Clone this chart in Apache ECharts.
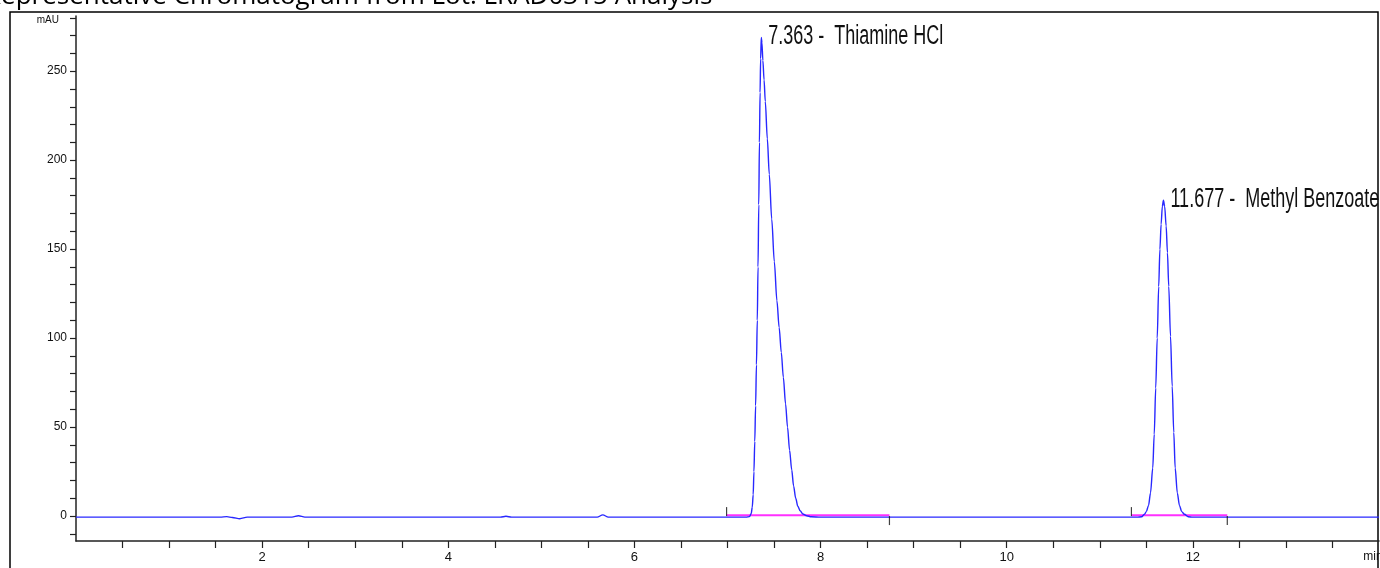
<!DOCTYPE html>
<html>
<head>
<meta charset="utf-8">
<title>Chromatogram</title>
<script src="https://cdn.jsdelivr.net/npm/echarts@6/dist/echarts.min.js"></script>
<style>
  html, body { margin: 0; padding: 0; background: #fff; }
  #chart { width: 1380px; height: 568px; }
</style>
</head>
<body>
<div id="chart"></div>
<script>
// retention time (min) and detector signal (mAU)
var traceTime = [0, 1.55, 1.62, 1.68, 1.76, 1.84, 2.32, 2.39, 2.46, 4.56, 4.62, 4.68, 5.60, 5.66, 5.72,
    7.20, 7.237, 7.255, 7.266, 7.276, 7.284, 7.293, 7.302, 7.311, 7.320, 7.328, 7.336, 7.343, 7.350, 7.356,
    7.363, 7.370, 7.380, 7.393, 7.406, 7.428, 7.449, 7.475, 7.503, 7.531, 7.555, 7.578, 7.600, 7.624,
    7.645, 7.667, 7.690, 7.710, 7.733, 7.756, 7.780, 7.810, 7.850, 7.900, 8.00,
    11.40, 11.45, 11.48, 11.50, 11.524, 11.545, 11.569, 11.585, 11.601, 11.617, 11.633, 11.646, 11.659,
    11.672, 11.684, 11.697, 11.713, 11.727, 11.741, 11.760, 11.778, 11.795, 11.810, 11.833, 11.856,
    11.880, 11.910, 11.950, 12.00, 14];
var traceMAU = [-0.6, -0.6, -0.3, -0.8, -1.5, -0.6, -0.6, 0.2, -0.6, -0.6, -0.1, -0.6, -0.6, 0.7, -0.6,
    -0.6, -0.3, 1.5, 5, 12, 25, 42, 62, 85, 110, 140, 175, 210, 238, 257,
    269, 266, 256, 245, 233, 212, 192, 167, 143, 121, 106, 92, 78, 63,
    50, 37, 26, 17, 10, 5.5, 3, 1.2, 0.2, -0.4, -0.6,
    -0.6, -0.4, 1.0, 2.5, 6, 13, 27, 46, 72, 100, 129, 150, 164,
    174, 177.5, 174, 163, 148, 129, 101, 73, 47, 27, 13, 6,
    2.5, 1.0, -0.4, -0.6, -0.6];

// identified peaks
var peakNames = ['Thiamine HCl', 'Methyl Benzoate'];
var peakRT = [7.363, 11.677];
var peakTime = [7.363, 11.684];
var peakHeight = [269, 177.5];

// integration baselines (start / end of each peak window)
var intStart = [6.99, 11.34];
var intEnd = [8.74, 12.37];
var intLevel = 0.4;

// axis ticks and labels
var xTicks = [0.5, 1, 1.5, 2, 2.5, 3, 3.5, 4, 4.5, 5, 5.5, 6, 6.5, 7, 7.5, 8, 8.5, 9, 9.5, 10,
    10.5, 11, 11.5, 12, 12.5, 13, 13.5];
var xLabels = [2, 4, 6, 8, 10, 12, 14];
var yTicks = [-10, 0, 10, 20, 30, 40, 50, 60, 70, 80, 90, 100, 110, 120, 130, 140, 150, 160, 170,
    180, 190, 200, 210, 220, 230, 240, 250, 260, 270, 280];
var yLabels = [0, 50, 100, 150, 200, 250, 280];

var sans = "'Liberation Sans', Arial, sans-serif";

var trace = traceTime.map(function (t, i) { return [t, traceMAU[i]]; });
var peaks = peakTime.map(function (t, i) { return [t, peakHeight[i]]; });
var peakText = peakRT.map(function (rt, i) { return rt.toFixed(3) + ' -  ' + peakNames[i]; });
var startMarks = intStart.map(function (t) { return [t, 0]; });
var endMarks = intEnd.map(function (t) { return [t, 0]; });

var myChart = echarts.init(document.getElementById('chart'));

var option = {
    animation: false,
    title: {
        text: 'Representative Chromatogram from Lot: LRAD0315 Analysis',
        left: -15,
        top: -16,
        padding: 0,
        textStyle: { fontFamily: "'Open Sans', sans-serif", fontSize: 26, fontWeight: 'normal', color: '#000' }
    },
    graphic: [{
        type: 'rect',
        shape: { x: 10, y: 12, width: 1368, height: 600 },
        style: { fill: 'none', stroke: '#000', lineWidth: 1.5 },
        silent: true
    }],
    grid: { left: 76, right: 1, top: 16, bottom: 27, outerBoundsMode: 'none' },
    xAxis: {
        type: 'value',
        min: 0,
        max: 14,
        axisLine: { onZero: false, lineStyle: { color: '#222', width: 1.5 } },
        axisTick: { customValues: xTicks, length: 7, lineStyle: { color: '#222', width: 1.2 } },
        axisLabel: {
            customValues: xLabels,
            margin: 10,
            fontFamily: sans,
            fontSize: 13,
            color: '#111',
            formatter: function (v) { return v === 14 ? '{m|min}' : String(v); },
            rich: { m: { fontFamily: sans, fontSize: 12, color: '#111', padding: [0, 12, 0, 0] } }
        },
        splitLine: { show: false }
    },
    yAxis: {
        type: 'value',
        min: -14,
        max: 281,
        axisLine: { show: true, onZero: false, lineStyle: { color: '#222', width: 1.5 } },
        axisTick: { show: true, customValues: yTicks, length: 6, lineStyle: { color: '#222', width: 1.2 } },
        axisLabel: {
            customValues: yLabels,
            margin: 9,
            fontFamily: sans,
            fontSize: 12,
            color: '#111',
            formatter: function (v) { return v === 280 ? '{u|mAU}' : String(v); },
            rich: { u: { fontFamily: sans, fontSize: 10, color: '#111', padding: [5, 8, 0, 0] } }
        },
        splitLine: { show: false }
    },
    series: [
        {
            name: 'integration',
            type: 'line',
            data: [[intStart[0], intLevel], [intEnd[0], intLevel]],
            symbol: 'none',
            lineStyle: { color: '#ff30ff', width: 2 },
            z: 2
        },
        {
            name: 'integration2',
            type: 'line',
            data: [[intStart[1], intLevel], [intEnd[1], intLevel]],
            symbol: 'none',
            lineStyle: { color: '#ff30ff', width: 2 },
            z: 2
        },
        {
            name: 'signal',
            type: 'line',
            data: trace,
            symbol: 'none',
            smooth: 0.3,
            smoothMonotone: 'x',
            lineStyle: { color: '#2828ff', width: 1.4 },
            z: 3
        },
        {
            name: 'start',
            type: 'scatter',
            data: startMarks,
            symbol: 'rect',
            symbolSize: [1.2, 9],
            symbolOffset: [0, -4.5],
            itemStyle: { color: '#111' },
            z: 4
        },
        {
            name: 'end',
            type: 'scatter',
            data: endMarks,
            symbol: 'rect',
            symbolSize: [1.2, 9],
            symbolOffset: [0, 4.5],
            itemStyle: { color: '#111' },
            z: 4
        },
        {
            // peak annotations: tall, narrow text like the instrument printout
            name: 'peaks',
            type: 'custom',
            data: peaks,
            renderItem: function (params, api) {
                var p = api.coord([api.value(0), api.value(1)]);
                return {
                    type: 'text',
                    x: p[0] + 7,
                    y: p[1] - 1,
                    scaleY: 1.5,
                    style: {
                        text: peakText[params.dataIndex],
                        font: '18px ' + sans,
                        fill: '#111',
                        align: 'left',
                        verticalAlign: 'middle'
                    }
                };
            },
            z: 5
        }
    ]
};

myChart.setOption(option);
window.onresize = function () { myChart.resize(); };
</script>
</body>
</html>
